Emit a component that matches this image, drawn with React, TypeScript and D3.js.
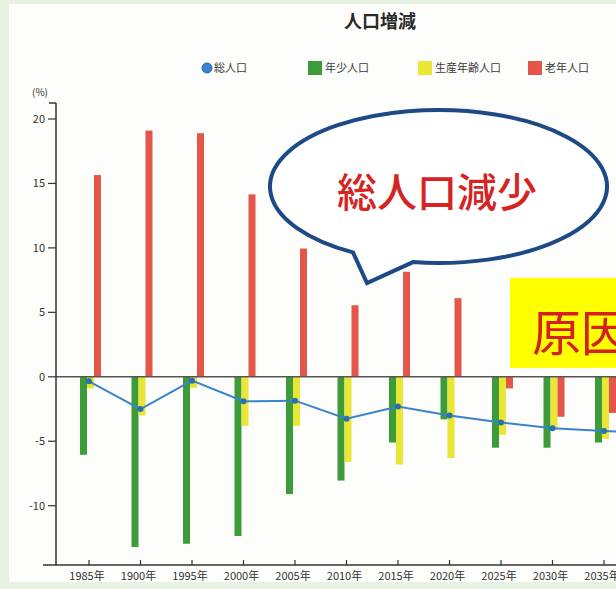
import React from "react";
import * as d3 from "d3";

const categories = ["1985年", "1900年", "1995年", "2000年", "2005年", "2010年", "2015年", "2020年", "2025年", "2030年", "2035年", "2040年"];
const totalPop = [-0.35, -2.5, -0.3, -1.9, -1.85, -3.25, -2.3, -3.0, -3.55, -4.0, -4.2, -4.4];
const youngPop: (number | null)[] = [-6.05, -13.2, -12.95, -12.35, -9.1, -8.05, -5.1, -3.3, -5.5, -5.5, -5.1, null];
const workingPop: (number | null)[] = [-0.9, -3.0, -0.85, -3.8, -3.8, -6.6, -6.8, -6.3, -4.5, -4.1, -4.8, null];
const elderlyPop: (number | null)[] = [15.65, 19.1, 18.9, 14.15, 9.95, 5.55, 8.15, 6.1, -0.9, -3.1, -2.8, null];
const yTicks = [20, 15, 10, 5, 0, -5, -10];
const seriesKeys = ["young", "working", "elderly"];
const legendLabels = ["総人口", "年少人口", "生産年齢人口", "老年人口"];

const W = 616;
const H = 589;
const FONT = "'Noto Sans CJK JP', 'Noto Sans', sans-serif";
const COLORS: Record<string, string> = {
  total: "#3a84c8",
  young: "#3d9b3a",
  working: "#e9e636",
  elderly: "#e5564a",
};

export default function App() {
  const x = d3.scalePoint<string>().domain(categories).range([89, 89 + 51.5 * (categories.length - 1)]);
  const y = d3.scaleLinear().domain([-14.6, 21.24]).range([565, 103]);
  const sub = d3.scaleBand<string>().domain(seriesKeys).range([-9, 12]).padding(0);
  const seriesData: Record<string, (number | null)[]> = {
    young: youngPop,
    working: workingPop,
    elderly: elderlyPop,
  };
  const line = d3
    .line<number>()
    .x((_, i) => x(categories[i]) as number)
    .y((d) => y(d));

  const axisX = 56;

  // speech bubble
  const cx = 438.5, cy = 186.5, rx = 168.5, ry = 76.5;
  const ax = 353, bx = 413;
  const ay = cy + ry * Math.sqrt(1 - ((ax - cx) / rx) ** 2);
  const by = cy + ry * Math.sqrt(1 - ((bx - cx) / rx) ** 2);
  const tip = [367, 283];
  const bubblePath = `M${ax},${ay} L${tip[0]},${tip[1]} L${bx},${by} A${rx},${ry} 0 1 0 ${ax},${ay} Z`;

  const legendItems = [
    { key: "total", x: 202, label: legendLabels[0] },
    { key: "young", x: 308, label: legendLabels[1] },
    { key: "working", x: 418, label: legendLabels[2] },
    { key: "elderly", x: 528, label: legendLabels[3] },
  ];

  const visibleCats = categories.filter((c) => (x(c) as number) < W);

  return (
    <div style={{ position: "fixed", left: 0, top: 0 }}>
      <svg width={W} height={H} style={{ display: "block", fontFamily: FONT }}>
        <rect x={0} y={0} width={W} height={H} fill="#e7f2e3" />
        <rect x={9} y={4} width={W - 9} height={578} fill="#fdfdfb" />

        {/* title */}
        <text x={380} y={28} textAnchor="middle" fontSize={18} fontWeight="bold" fill="#2a2a2a">
          人口増減
        </text>

        {/* legend */}
        {legendItems.map((it) => (
          <g key={it.key}>
            {it.key === "total" ? (
              <circle cx={it.x + 5} cy={68} r={5} fill={COLORS.total} stroke="#2767a8" strokeWidth={1} />
            ) : (
              <rect x={it.x} y={61} width={14} height={14} fill={COLORS[it.key]} />
            )}
            <text x={it.x + (it.key === "total" ? 12 : 17)} y={72} fontSize={11} fill="#3a3a3a">
              {it.label}
            </text>
          </g>
        ))}

        {/* unit */}
        <text x={32} y={96} fontSize={10} fill="#333">(%)</text>

        {/* bars */}
        {seriesKeys.map((k) =>
          seriesData[k].map((v, i) =>
            v === null ? null : (
              <rect
                key={k + i}
                x={(x(categories[i]) as number) + (sub(k) as number)}
                y={y(Math.max(0, v))}
                width={sub.bandwidth()}
                height={Math.abs(y(v) - y(0))}
                fill={COLORS[k]}
              />
            )
          )
        )}

        {/* zero line */}
        <line x1={axisX} x2={W} y1={y(0)} y2={y(0)} stroke="#555" strokeWidth={1.5} />

        {/* total line */}
        <path d={line(totalPop) || ""} fill="none" stroke={COLORS.total} strokeWidth={2} />
        {totalPop.map((v, i) => (
          <circle key={i} cx={x(categories[i]) as number} cy={y(v)} r={3} fill="#2a6fb5" />
        ))}

        {/* y axis */}
        <line x1={axisX} x2={axisX} y1={y(21.24)} y2={y(-14.6)} stroke="#333" strokeWidth={1.5} />
        <line x1={49} x2={axisX} y1={y(21.24)} y2={y(21.24)} stroke="#333" strokeWidth={1.5} />
        {yTicks.map((t) => (
          <g key={t}>
            <line x1={axisX - 8} x2={axisX} y1={y(t)} y2={y(t)} stroke="#333" strokeWidth={1.2} />
            <text x={axisX - 11} y={y(t)} dy="0.35em" textAnchor="end" fontSize={11} fill="#333">
              {t}
            </text>
          </g>
        ))}

        {/* x axis */}
        <line x1={43} x2={W} y1={565} y2={565} stroke="#333" strokeWidth={1.5} />
        {visibleCats.map((c) => (
          <g key={c}>
            <line x1={x(c) as number} x2={x(c) as number} y1={565} y2={560} stroke="#333" strokeWidth={1.2} />
            <text x={(x(c) as number) - 2} y={580} textAnchor="middle" fontSize={11} fill="#333">
              {c}
            </text>
          </g>
        ))}

        {/* speech bubble */}
        <path d={bubblePath} fill="#ffffff" stroke="#1d4a86" strokeWidth={4} strokeLinejoin="miter" />
        <text x={437} y={190} textAnchor="middle" dominantBaseline="central" fontSize={40} fontWeight={500} fill="#d42424">
          総人口減少
        </text>

        {/* yellow box */}
        <rect x={510} y={278} width={120} height={90} fill="#ffff00" />
        <text x={532} y={329} dominantBaseline="central" fontSize={49} fill="#d42020">
          原因
        </text>
      </svg>
    </div>
  );
}
